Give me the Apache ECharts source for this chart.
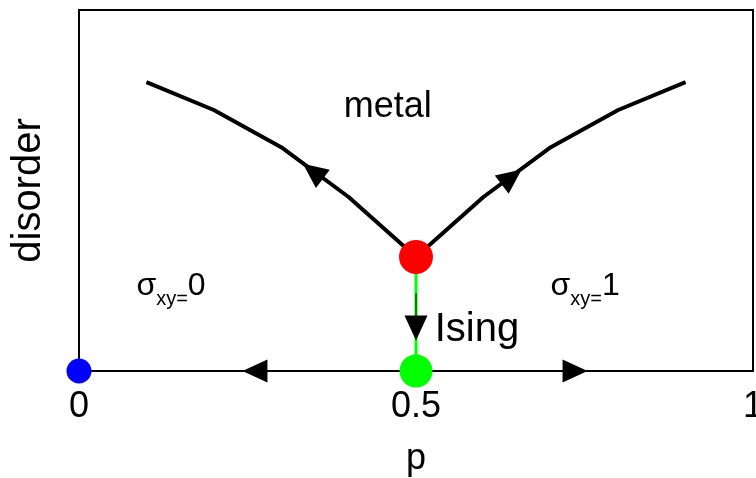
<!DOCTYPE html>
<html>
<head>
<meta charset="utf-8">
<script src="https://cdn.jsdelivr.net/npm/echarts@6/dist/echarts.min.js"></script>
<style>
  html, body { margin: 0; padding: 0; background: #fff; }
  #chart { width: 756px; height: 478px; }
</style>
</head>
<body>
<div id="chart"></div>
<script>
// flow lines (p, disorder)
var leftBranch = [[0.1, 0.8], [0.2, 0.723], [0.3, 0.62], [0.4, 0.482], [0.5, 0.316]];
var rightBranch = [[0.9, 0.8], [0.8, 0.723], [0.7, 0.62], [0.6, 0.482], [0.5, 0.316]];
var isingLine = [[0.5, 0.316], [0.5, 0]];
var isingStub = [[0.5, 0.215], [0.5, 0.14]];

// fixed points
var bluePoint = [[0, 0]];
var greenPoint = [[0.5, 0]];
var redPoint = [[0.5, 0.316]];

// arrow heads: [p, disorder, rotation]
var arrows = [
  [0.347, 0.553, 53],
  [0.642, 0.537, -53],
  [0.5, 0.119, 180],
  [0.261, 0, 90],
  [0.736, 0, -90]
];

// text labels
var notes = [
  [0.458, 0.731, '{t|metal}', 36],
  [0.5905, 0.113, '{t|Ising}', 40],
  [0.1365, 0.235, '{m|σ}{s|xy=}{m|0}', 32],
  [0.751, 0.235, '{m|σ}{s|xy=}{m|1}', 32]
];

var xTicks = { 0: '0', 0.5: '0.5', 1: '1' };
var font = 'Liberation Sans, Arial, sans-serif';

var chart = echarts.init(document.getElementById('chart'));

var option = {
  animation: false,
  grid: {
    left: 79, right: 3, top: 10, bottom: 107,
    containLabel: false, outerBoundsMode: 'none',
    show: true, borderColor: '#000', borderWidth: 2
  },
  xAxis: {
    type: 'value', min: 0, max: 1, interval: 0.5,
    name: 'p', nameLocation: 'middle', nameGap: 70,
    nameTextStyle: { fontSize: 36, color: '#000', fontFamily: font },
    axisLine: { lineStyle: { color: '#000', width: 2 } },
    axisTick: { show: false },
    splitLine: { show: false },
    axisLabel: {
      fontSize: 36, color: '#000', fontFamily: font, margin: 18,
      formatter: function (v) { return xTicks[v] !== undefined ? xTicks[v] : ''; }
    }
  },
  yAxis: {
    type: 'value', min: 0, max: 1,
    name: 'disorder', nameLocation: 'middle', nameGap: 30, nameRotate: 90,
    nameTextStyle: { fontSize: 40, color: '#000', fontFamily: font },
    axisLine: { show: true, lineStyle: { color: '#000', width: 2 } },
    axisTick: { show: false },
    axisLabel: { show: false },
    splitLine: { show: false }
  },
  series: [
    { type: 'line', data: leftBranch, symbol: 'none',
      lineStyle: { color: '#000', width: 4 }, z: 3 },
    { type: 'line', data: rightBranch, symbol: 'none',
      lineStyle: { color: '#000', width: 4 }, z: 3 },
    { type: 'line', data: isingLine, symbol: 'none',
      lineStyle: { color: '#00ff00', width: 3 }, z: 3 },
    { type: 'line', data: isingStub, symbol: 'none',
      lineStyle: { color: '#000', width: 1 }, z: 4 },
    { type: 'scatter', data: arrows.map(function (a) {
        return { value: [a[0], a[1]], symbolRotate: a[2] };
      }),
      symbol: 'triangle', symbolSize: [23, 25],
      itemStyle: { color: '#000', opacity: 1 }, clip: false, z: 5 },
    { type: 'scatter', data: bluePoint, symbolSize: 25,
      itemStyle: { color: '#0000ff', opacity: 1 }, clip: false, z: 6 },
    { type: 'scatter', data: greenPoint, symbolSize: 33,
      itemStyle: { color: '#00ff00', opacity: 1 }, clip: false, z: 6 },
    { type: 'scatter', data: redPoint, symbolSize: 34,
      itemStyle: { color: '#ff0000', opacity: 1 }, clip: false, z: 6 },
    { type: 'scatter', symbolSize: 0, silent: true, z: 7,
      itemStyle: { opacity: 1 },
      data: notes.map(function (n) {
        return {
          value: [n[0], n[1]],
          label: {
            show: true, position: 'inside', formatter: n[2],
            rich: {
              t: { fontSize: n[3], color: '#000', fontFamily: font },
              m: { fontSize: n[3], color: '#000', fontFamily: font, lineHeight: 46, verticalAlign: 'middle' },
              s: { fontSize: 20, color: '#000', fontFamily: font, lineHeight: 46, verticalAlign: 'bottom' }
            }
          }
        };
      })
    }
  ]
};

chart.setOption(option);
</script>
</body>
</html>
